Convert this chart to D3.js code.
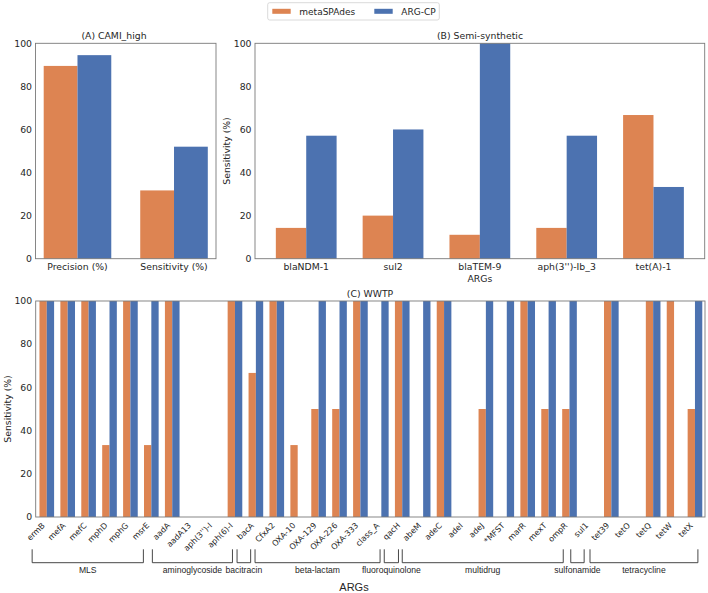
<!DOCTYPE html>
<html>
<head>
<meta charset="utf-8">
<script src="https://cdn.jsdelivr.net/npm/d3@7"></script>
<style>
  body { margin: 0; background: #fff; }
  svg text { font-family: "DejaVu Sans", sans-serif; fill: #262626; }
</style>
</head>
<body>
<div id="chart"></div>
<script>
// Series names
const seriesNames = ["metaSPAdes", "ARG-CP"];
const colors = ["#DD8452", "#4C72B0"];

// (A) CAMI_high
const camiCategories = ["Precision (%)", "Sensitivity (%)"];
const camiMeta = [89.5, 31.7];
const camiArg = [94.5, 52.0];

// (B) Semi-synthetic
const semiGenes = ["blaNDM-1", "sul2", "blaTEM-9", "aph(3'')-Ib_3", "tet(A)-1"];
const semiMeta = [14.3, 20.0, 11.1, 14.3, 66.7];
const semiArg = [57.1, 60.0, 100, 57.1, 33.3];

// (C) WWTP
const wwtpGenes = ["ermB", "mefA", "mefC", "mphD", "mphG", "msrE", "aadA", "aadA13", "aph(3'')-I", "aph(6)-I",
  "bacA", "CfxA2", "OXA-10", "OXA-129", "OXA-226", "OXA-333", "class_A", "qacH", "abeM", "adeC",
  "adeI", "adeJ", "*MFST", "marR", "mexT", "ompR", "sul1", "tet39", "tetO", "tetQ", "tetW", "tetX"];
const wwtpMeta = [100, 100, 100, 33.3, 100, 33.3, 100, 0, 0, 100,
  66.7, 100, 33.3, 50, 50, 100, 0, 100, 0, 100,
  0, 50, 0, 100, 50, 50, 0, 100, 0, 100, 100, 50];
const wwtpArg = [100, 100, 100, 100, 100, 100, 100, 0, 0, 100,
  100, 100, 0, 100, 100, 100, 100, 100, 100, 100,
  0, 100, 100, 100, 100, 100, 0, 100, 0, 100, 0, 100];

// ARG classes under panel C (span in gene index units, as drawn)
const groupNames = ["MLS", "aminoglycoside", "bacitracin", "beta-lactam", "fluoroquinolone", "multidrug", "sulfonamide", "tetracycline"];
const groupStart = [-0.7, 5.05, 9.1, 9.96, 16.14, 17.0, 25.06, 25.98];
const groupEnd = [4.62, 8.88, 9.75, 15.94, 16.82, 24.7, 25.7, 31.14];

const yTicks = [0, 20, 40, 60, 80, 100];

const width = 708, height = 593;
const barW = 0.35;

const svg = d3.select("#chart").append("svg")
  .attr("width", width)
  .attr("height", height);

function panel(opts) {
  const { left, right, top, bottom, cats, meta, arg, domain, title, titleX, ylabel, ylabelX, xlabel, rotate } = opts;
  const x = d3.scaleLinear().domain(domain).range([left, right]);
  const y = d3.scaleLinear().domain([0, 100]).range([bottom, top]);
  const g = svg.append("g");

  // bars
  [meta, arg].forEach((vals, s) => {
    g.selectAll(null)
      .data(vals)
      .enter().append("rect")
      .attr("x", (d, i) => x(i - barW + s * barW))
      .attr("width", x(barW) - x(0))
      .attr("y", d => y(d))
      .attr("height", d => y(0) - y(d))
      .attr("fill", colors[s]);
  });

  // frame
  g.append("rect")
    .attr("x", left).attr("y", top)
    .attr("width", right - left).attr("height", bottom - top)
    .attr("fill", "none").attr("stroke", "#7a7a7a").attr("stroke-width", 0.9);

  // y ticks
  g.selectAll(null).data(yTicks).enter().append("text")
    .attr("x", left - 3.5)
    .attr("y", d => y(d))
    .attr("dy", "0.35em")
    .attr("text-anchor", "end")
    .attr("font-size", 9.3)
    .text(d => d);

  // x tick labels
  if (rotate) {
    g.selectAll(null).data(cats).enter().append("text")
      .attr("transform", (d, i) => `translate(${x(i) - 1.5},${bottom + 9}) rotate(-45)`)
      .attr("text-anchor", "end")
      .attr("font-size", 8)
      .text(d => d);
  } else {
    g.selectAll(null).data(cats).enter().append("text")
      .attr("x", (d, i) => x(i))
      .attr("y", bottom + 11)
      .attr("text-anchor", "middle")
      .attr("font-size", 9.3)
      .text(d => d);
  }

  // title
  g.append("text")
    .attr("x", titleX)
    .attr("y", top - 4)
    .attr("text-anchor", "middle")
    .attr("font-size", 9.3)
    .text(title);

  if (ylabel) {
    g.append("text")
      .attr("transform", `translate(${ylabelX},${(top + bottom) / 2}) rotate(-90)`)
      .attr("text-anchor", "middle")
      .attr("font-size", 9.3)
      .text(ylabel);
  }
  if (xlabel) {
    g.append("text")
      .attr("x", (left + right) / 2)
      .attr("y", bottom + 23)
      .attr("text-anchor", "middle")
      .attr("font-size", 9.3)
      .text(xlabel);
  }
  return x;
}

panel({
  left: 35.5, right: 216, top: 43.3, bottom: 258.7,
  cats: camiCategories, meta: camiMeta, arg: camiArg,
  domain: [-0.435, 1.435], title: "(A) CAMI_high", titleX: 114
});

panel({
  left: 255, right: 704.7, top: 43.3, bottom: 258.7,
  cats: semiGenes, meta: semiMeta, arg: semiArg,
  domain: [-0.59, 4.59], title: "(B) Semi-synthetic", titleX: 480,
  ylabel: "Sensitivity (%)", ylabelX: 230, xlabel: "ARGs"
});

const xC = panel({
  left: 35.7, right: 705, top: 301, bottom: 517,
  cats: wwtpGenes, meta: wwtpMeta, arg: wwtpArg,
  domain: [-0.53, 31.48], title: "(C) WWTP", titleX: 370,
  ylabel: "Sensitivity (%)", ylabelX: 10.5, rotate: true
});

// class brackets under panel C
const brTop = 549.3, brBot = 562.7;
groupNames.forEach((name, k) => {
  const x0 = xC(groupStart[k]), x1 = xC(groupEnd[k]);
  svg.append("path")
    .attr("d", `M${x0},${brTop}V${brBot}H${x1}V${brTop}`)
    .attr("fill", "none")
    .attr("stroke", "#333")
    .attr("stroke-width", 0.9);
  svg.append("text")
    .attr("x", (x0 + x1) / 2)
    .attr("y", 573.3)
    .attr("text-anchor", "middle")
    .attr("font-size", 8.6)
    .style("font-family", "'Liberation Sans', Arial, sans-serif")
    .text(name);
});

svg.append("text")
  .attr("x", 354)
  .attr("y", 590.5)
  .attr("text-anchor", "middle")
  .attr("font-size", 11)
  .style("font-family", "'Liberation Sans', Arial, sans-serif")
  .text("ARGs");

// Legend
const legend = svg.append("g");
legend.append("rect")
  .attr("x", 267.7).attr("y", 2.7)
  .attr("width", 171.6).attr("height", 17.3)
  .attr("rx", 2)
  .attr("fill", "#fff")
  .attr("stroke", "#d0d0d0")
  .attr("stroke-width", 0.8);
const legendX = [272.3, 374.3];
seriesNames.forEach((name, s) => {
  legend.append("rect")
    .attr("x", legendX[s]).attr("y", 8.8)
    .attr("width", 18.4).attr("height", 5)
    .attr("fill", colors[s]);
  legend.append("text")
    .attr("x", legendX[s] + 27)
    .attr("y", 14.6)
    .attr("font-size", 9)
    .text(name);
});
</script>
</body>
</html>
